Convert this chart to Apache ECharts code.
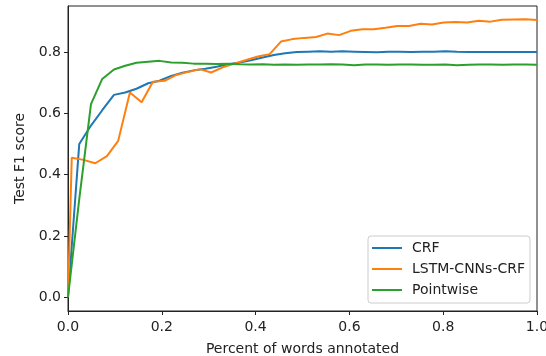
<!DOCTYPE html>
<html>
<head>
<meta charset="utf-8">
<script src="https://cdn.jsdelivr.net/npm/echarts@6/dist/echarts.min.js"></script>
<style>
  html, body { margin: 0; padding: 0; background: #fff; }
  #chart { width: 546px; height: 356px; }
</style>
</head>
<body>
<div id="chart"></div>
<script>
// x positions (fraction of words annotated)
const crfX = [0, 0.024, 0.049, 0.073, 0.098, 0.122, 0.146, 0.171, 0.195, 0.22, 0.244,
  0.268, 0.293, 0.317, 0.341, 0.366, 0.39, 0.415, 0.439, 0.463, 0.488, 0.512, 0.537,
  0.561, 0.585, 0.61, 0.634, 0.659, 0.683, 0.707, 0.732, 0.756, 0.78, 0.805, 0.829,
  0.854, 0.878, 0.902, 0.927, 0.951, 0.976, 1.0];
const lstmX = [0, 0.008, 0.033, 0.058, 0.083, 0.107, 0.132, 0.157, 0.181, 0.206, 0.231,
  0.256, 0.281, 0.305, 0.33, 0.355, 0.38, 0.405, 0.43, 0.454, 0.479, 0.504, 0.529,
  0.553, 0.578, 0.603, 0.628, 0.652, 0.677, 0.702, 0.727, 0.752, 0.776, 0.801, 0.826,
  0.851, 0.876, 0.901, 0.925, 0.95, 0.975, 1.0];
const pointX = crfX;

// test F1 scores
const crfY = [0, 0.50, 0.56, 0.61, 0.66, 0.668, 0.68, 0.698, 0.706, 0.722, 0.732,
  0.74, 0.745, 0.752, 0.76, 0.766, 0.773, 0.782, 0.79, 0.796, 0.80, 0.801, 0.802,
  0.801, 0.802, 0.801, 0.80, 0.799, 0.801, 0.801, 0.80, 0.801, 0.801, 0.802, 0.801,
  0.80, 0.80, 0.80, 0.80, 0.80, 0.80, 0.80];
const lstmY = [0, 0.455, 0.448, 0.437, 0.46, 0.51, 0.668, 0.636, 0.703, 0.706, 0.725,
  0.735, 0.744, 0.733, 0.75, 0.762, 0.774, 0.785, 0.793, 0.834, 0.842, 0.846, 0.849,
  0.86, 0.855, 0.869, 0.874, 0.874, 0.879, 0.885, 0.885, 0.892, 0.89, 0.896, 0.898,
  0.896, 0.902, 0.899, 0.905, 0.906, 0.907, 0.904];
const pointY = [0, 0.32, 0.63, 0.712, 0.743, 0.755, 0.765, 0.768, 0.771, 0.766, 0.765,
  0.762, 0.762, 0.761, 0.762, 0.76, 0.759, 0.76, 0.758, 0.759, 0.758, 0.759, 0.759,
  0.76, 0.759, 0.757, 0.759, 0.759, 0.758, 0.759, 0.759, 0.758, 0.758, 0.759, 0.757,
  0.758, 0.759, 0.759, 0.758, 0.759, 0.759, 0.758];

const seriesNames = ['CRF', 'LSTM-CNNs-CRF', 'Pointwise'];
const yTicks = [0, 0.2, 0.4, 0.6, 0.8];

const font = 'DejaVu Sans';
const axisColor = '#222';
const fs = 14;

function pairs(xs, ys) {
  return xs.map((x, i) => [x, ys[i]]);
}

const chartObj = echarts.init(document.getElementById('chart'));
const option = {
  animation: false,
  textStyle: { fontFamily: font },
  color: ['#1f77b4', '#ff7f0e', '#2ca02c'],
  grid: {
    left: 68, right: 9, top: 6, bottom: 45,
    outerBoundsMode: 'none',
    show: true,
    borderColor: axisColor,
    borderWidth: 1,
    backgroundColor: 'transparent'
  },
  xAxis: {
    type: 'value',
    min: 0, max: 1, interval: 0.2,
    name: 'Percent of words annotated',
    nameLocation: 'middle',
    nameGap: 31,
    nameTextStyle: { color: '#222', fontSize: fs, fontFamily: font },
    axisLine: { show: true, onZero: false, lineStyle: { color: axisColor } },
    axisTick: { show: true, inside: false, length: 4, lineStyle: { color: axisColor } },
    axisLabel: {
      color: '#222', fontSize: fs, margin: 9,
      formatter: v => v.toFixed(1)
    },
    splitLine: { show: false }
  },
  yAxis: {
    type: 'value',
    min: -0.045, max: 0.95,
    name: 'Test F1 score',
    nameLocation: 'middle',
    nameGap: 39,
    nameTextStyle: { color: '#222', fontSize: fs, fontFamily: font },
    axisLine: { show: true, onZero: false, lineStyle: { color: axisColor } },
    axisTick: { show: true, inside: false, length: 4, customValues: yTicks, lineStyle: { color: axisColor } },
    axisLabel: {
      color: '#222', fontSize: fs, margin: 7,
      customValues: yTicks,
      formatter: v => v.toFixed(1)
    },
    splitLine: { show: false }
  },
  legend: {
    orient: 'vertical',
    left: 368, top: 236,
    padding: [4, 5, 5, 4],
    itemGap: 5,
    itemWidth: 30,
    itemHeight: 2,
    icon: 'rect',
    borderColor: '#ccc',
    borderWidth: 1,
    borderRadius: 3,
    backgroundColor: 'rgba(255,255,255,0.8)',
    textStyle: { color: '#222', fontSize: fs, fontFamily: font, padding: [0, 0, 0, 5], lineHeight: 16 },
    data: seriesNames
  },
  series: [
    { name: seriesNames[0], type: 'line', showSymbol: false, lineStyle: { width: 2 }, data: pairs(crfX, crfY) },
    { name: seriesNames[1], type: 'line', showSymbol: false, lineStyle: { width: 2 }, data: pairs(lstmX, lstmY) },
    { name: seriesNames[2], type: 'line', showSymbol: false, lineStyle: { width: 2 }, data: pairs(pointX, pointY) }
  ]
};
chartObj.setOption(option);
</script>
</body>
</html>
